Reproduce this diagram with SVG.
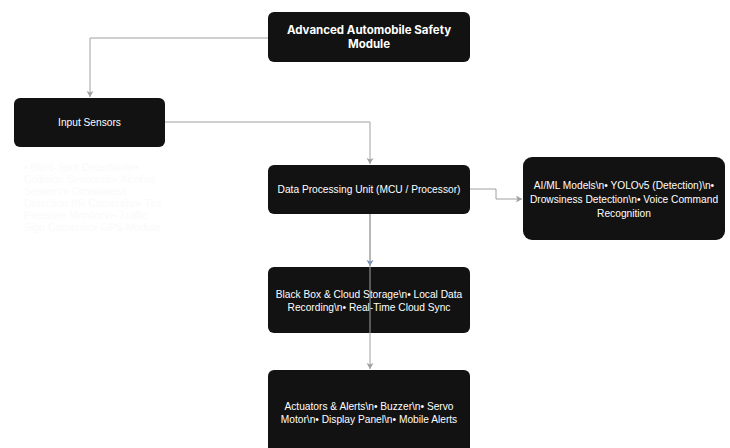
<svg xmlns="http://www.w3.org/2000/svg" width="730" height="448" viewBox="0 0 730 448">
<defs>
<marker id="arr" markerWidth="8" markerHeight="8" refX="6" refY="4" orient="auto" markerUnits="userSpaceOnUse">
<path d="M0,0.5 L6,4 L0,7.5 L1.5,4 Z" fill="#a0a0a0"/>
</marker>
<marker id="arrb" markerWidth="8" markerHeight="8" refX="6" refY="4" orient="auto" markerUnits="userSpaceOnUse">
<path d="M0,0.5 L6,4 L0,7.5 L1.5,4 Z" fill="#6c8ebf"/>
</marker>
<style>
.node{fill:#121212;}
.t{font-family:"Liberation Sans",Arial,sans-serif;font-size:10.2px;fill:#ffffff;text-anchor:middle;}
.tb{font-family:Inter,"Liberation Sans",sans-serif;font-size:11.5px;font-weight:bold;fill:#ffffff;text-anchor:middle;}
.c{fill:none;stroke:#a0a0a0;stroke-width:1;}
.faint{font-family:"Liberation Sans",Arial,sans-serif;font-size:10.5px;fill:#fafafa;}
</style>
</defs>
<rect width="730" height="448" fill="#ffffff"/>
<g id="faint-text">
<text class="faint" x="24" y="171">• Blind-Spot Detection\n•</text>
<text class="faint" x="24" y="183">Collision Sensors\n• Alcohol</text>
<text class="faint" x="24" y="195">Sensor\n• Drowsiness</text>
<text class="faint" x="24" y="207">Detection (IR Camera)\n• Tire</text>
<text class="faint" x="24" y="219">Pressure Monitor\n• Traffic</text>
<text class="faint" x="24" y="231">Sign Camera\n• GPS Module</text>
</g>
<g id="n-top">
<rect class="node" x="268" y="12" width="202" height="50" rx="6"/>
<text class="tb" x="369" y="34">Advanced Automobile Safety</text>
<text class="tb" x="369" y="48">Module</text>
</g>
<g id="n-input">
<rect class="node" x="14" y="98" width="151" height="49" rx="6"/>
<text class="t" x="89.5" y="126">Input Sensors</text>
</g>
<g id="n-dpu">
<rect class="node" x="268" y="165" width="202" height="49" rx="6"/>
<text class="t" x="369" y="193">Data Processing Unit (MCU / Processor)</text>
</g>
<g id="n-ai">
<rect class="node" x="523" y="157" width="202" height="83" rx="9"/>
<text class="t" x="624" y="189">AI/ML Models\n• YOLOv5 (Detection)\n•</text>
<text class="t" x="624" y="203">Drowsiness Detection\n• Voice Command</text>
<text class="t" x="624" y="217">Recognition</text>
</g>
<g id="n-blackbox">
<rect class="node" x="268" y="267" width="202" height="66" rx="6"/>
<text class="t" x="369" y="298">Black Box &amp; Cloud Storage\n• Local Data</text>
<text class="t" x="369" y="311">Recording\n• Real-Time Cloud Sync</text>
</g>
<g id="n-actuators">
<rect class="node" x="268" y="370" width="202" height="84" rx="6"/>
<text class="t" x="369" y="410">Actuators &amp; Alerts\n• Buzzer\n• Servo</text>
<text class="t" x="369" y="423">Motor\n• Display Panel\n• Mobile Alerts</text>
</g>
<g id="connectors">
<path class="c" d="M268,38 H90 V97" marker-end="url(#arr)"/>
<path class="c" d="M165,122 H370 V164" marker-end="url(#arr)"/>
<path class="c" d="M470,189 H496 V199 H522" marker-end="url(#arr)"/>
<path class="c" d="M370,214 V266" marker-end="url(#arrb)"/>
<path class="c" d="M370,214 V369" marker-end="url(#arr)"/>
</g>
</svg>
